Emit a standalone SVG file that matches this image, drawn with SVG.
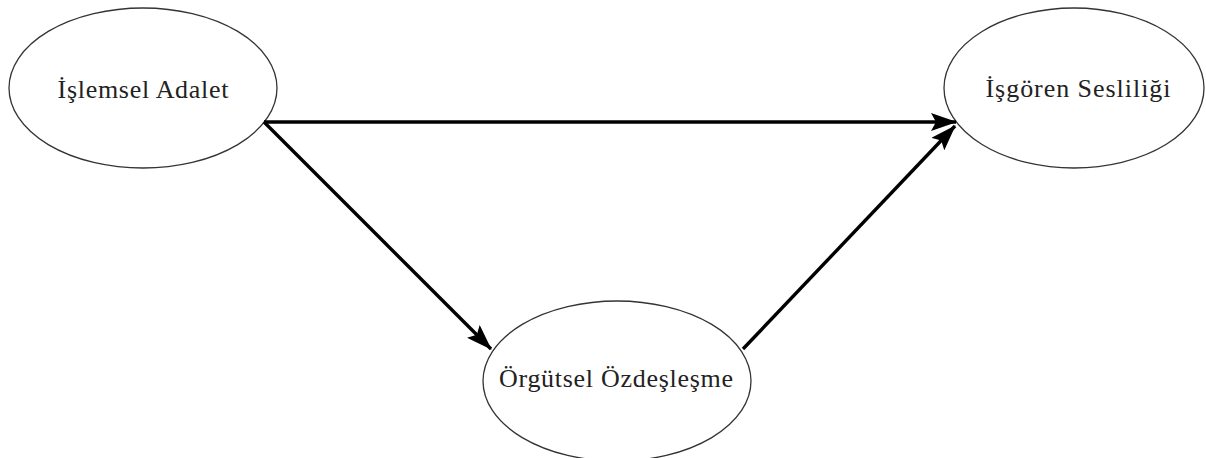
<svg xmlns="http://www.w3.org/2000/svg" width="1206" height="458" viewBox="0 0 1206 458">
<defs>
<marker id="ah" markerUnits="userSpaceOnUse" markerWidth="26" markerHeight="18" refX="25" refY="9" orient="auto">
<path d="M0,0 L26,9 L0,18 L5,9 Z" fill="#000"/>
</marker>
<style>
.node ellipse{fill:#fff;stroke:#333;stroke-width:1.3}
.node text{font-size:26px;fill:#222;text-anchor:middle}
.edge{stroke:#000;stroke-width:3.4;fill:none;marker-end:url(#ah)}
</style>
</defs>
<rect width="1206" height="458" fill="#fff"/>
<g id="n1" class="node"><ellipse cx="143" cy="88" rx="134" ry="80"/><text x="143" y="98" font-family="Liberation Serif, serif" textLength="171" lengthAdjust="spacing">İşlemsel Adalet</text></g>
<g id="n2" class="node"><ellipse cx="1074" cy="88" rx="130" ry="80"/><text x="1078" y="97" font-family="Liberation Serif, serif" textLength="185" lengthAdjust="spacing">İşgören Sesliliği</text></g>
<g id="n3" class="node"><ellipse cx="617" cy="381" rx="134" ry="80"/><text x="616" y="387" font-family="Liberation Serif, serif" textLength="234" lengthAdjust="spacing">Örgütsel Özdeşleşme</text></g>
<g id="edges">
<line class="edge" x1="264" y1="122" x2="956" y2="122"/>
<line class="edge" x1="264" y1="122" x2="491" y2="349"/>
<line class="edge" x1="743" y1="349" x2="955" y2="126"/>
</g>
</svg>
